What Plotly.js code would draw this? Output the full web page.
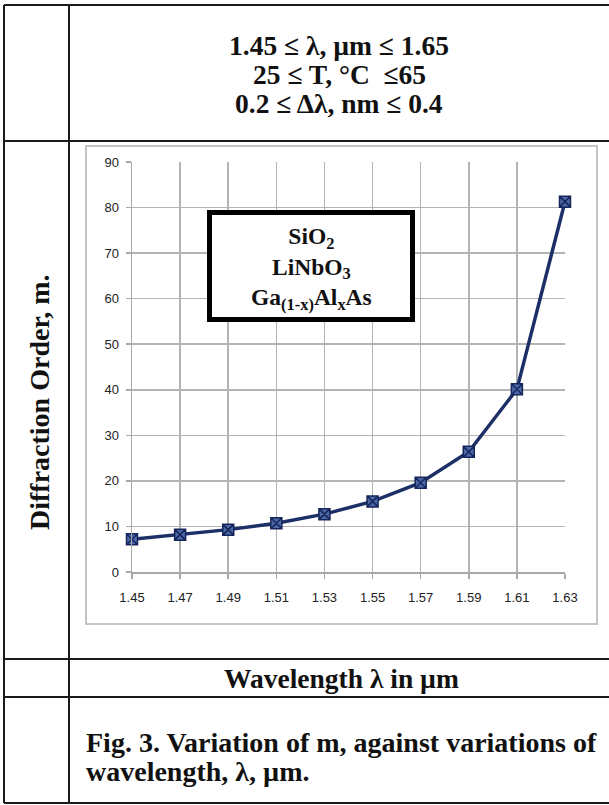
<!DOCTYPE html>
<html>
<head>
<meta charset="utf-8">
<script src="https://cdn.plot.ly/plotly-3.0.1.min.js"></script>
<style>html,body{margin:0;padding:0;background:#fff;}#chart{width:609px;height:805px;}</style>
</head>
<body>
<div id="chart"></div>
<script>
// ---- data ----
const wavelength = [1.45, 1.47, 1.49, 1.51, 1.53, 1.55, 1.57, 1.59, 1.61, 1.63];
const diffractionOrder = [7.2, 8.2, 9.3, 10.7, 12.7, 15.5, 19.6, 26.4, 40.1, 81.3];
const xTickLabels = ['1.45', '1.47', '1.49', '1.51', '1.53', '1.55', '1.57', '1.59', '1.61', '1.63'];
const yTickValues = [0, 10, 20, 30, 40, 50, 60, 70, 80, 90];
const headerLines = ['1.45 \u2264 \u03bb, \u00b5m \u2264 1.65', '25 \u2264 T, \u00b0C  \u226465', '0.2 \u2264 \u0394\u03bb, nm \u2264 0.4'];
const materials = ['SiO<sub>2</sub>', 'LiNbO<sub>3</sub>', 'Ga<sub>(1-x)</sub>Al<sub>x</sub>As'];
const yTitle = 'Diffraction Order, m.';
const xTitle = 'Wavelength \u03bb in \u00b5m';
const captionLines = ['Fig. 3. Variation of m, against variations of', 'wavelength, \u03bb, \u00b5m.'];

// ---- layout geometry (pixels -> paper) ----
const W = 609, H = 805;
const L = 132, R = 565, T = 162, B = 572;
const px = x => (x - L) / (R - L);
const py = y => (B - y) / (B - T);
const serif = 'Liberation Serif';

const lineStyle = {color: '#1a1a1a', width: 2};
function hline(y, x0, x1) { return {type: 'line', xref: 'paper', yref: 'paper', x0: px(x0), x1: px(x1), y0: py(y), y1: py(y), line: lineStyle}; }
function vline(x, y0, y1) { return {type: 'line', xref: 'paper', yref: 'paper', x0: px(x), x1: px(x), y0: py(y0), y1: py(y1), line: lineStyle}; }

const shapes = [
  hline(5, 4, 609), hline(141, 4, 609), hline(659, 4, 609), hline(697, 4, 609), hline(803, 4, 609),
  vline(4, 5, 803), vline(69, 5, 803),
  {type: 'rect', xref: 'paper', yref: 'paper', x0: px(86), x1: px(597), y0: py(146), y1: py(624), line: {color: '#c4c4c4', width: 2}, layer: 'below'},
  {type: 'rect', xref: 'paper', yref: 'paper', x0: px(209.5), x1: px(412.5), y0: py(212.5), y1: py(319.5), line: {color: '#000', width: 5}, fillcolor: '#fff', layer: 'above'}
];

const annotations = [];
const tf = sz => ({family: serif, size: sz, color: '#111', weight: 'bold'});
function note(x, y, text, size, opts) {
  annotations.push(Object.assign({xref: 'paper', yref: 'paper', x: px(x), y: py(y), text: text, showarrow: false, xanchor: 'center', yanchor: 'middle', font: tf(size)}, opts || {}));
}
headerLines.forEach((t, i) => note(339, 46 + i * 28.5, t, 27.5));
note(311, 268, materials.join('<br>'), 23.5);
note(39, 402, yTitle, 28, {textangle: -90});
note(341, 678, xTitle, 27.5);
captionLines.forEach((t, i) => note(84, 742 + i * 29, t, 28, {xanchor: 'left'}));

const trace = {
  x: wavelength, y: diffractionOrder, type: 'scatter', mode: 'lines+markers', cliponaxis: false,
  line: {color: '#1c2f66', width: 3.5},
  marker: {symbol: 'square-x', size: 11, color: '#4a68a8', line: {color: '#16265a', width: 1.5}},
  hoverinfo: 'skip'
};

const tickFont = {family: 'Liberation Sans', size: 13, color: '#222'};
const layout = {
  width: W, height: H,
  margin: {l: L, r: W - R, t: T, b: H - B, pad: 0},
  paper_bgcolor: '#fff', plot_bgcolor: '#fff',
  showlegend: false,
  xaxis: {
    range: [1.45, 1.63], tickvals: wavelength, ticktext: xTickLabels,
    showgrid: true, gridcolor: '#b4b4b4', gridwidth: 1.5,
    showline: true, linecolor: '#a8a8a8', linewidth: 1.5, zeroline: false,
    ticks: 'outside', ticklen: 5, tickcolor: '#a8a8a8', tickwidth: 1.5,
    ticklabelstandoff: 8, tickfont: tickFont
  },
  yaxis: {
    range: [0, 90], tickvals: yTickValues,
    showgrid: true, gridcolor: '#b4b4b4', gridwidth: 1.5,
    showline: true, linecolor: '#a8a8a8', linewidth: 1.5, zeroline: false,
    ticks: 'outside', ticklen: 5, tickcolor: '#a8a8a8', tickwidth: 1.5,
    ticklabelstandoff: 4, tickfont: tickFont
  },
  shapes: shapes, annotations: annotations
};

Plotly.newPlot('chart', [trace], layout, {displayModeBar: false, staticPlot: true});
</script>
</body>
</html>
